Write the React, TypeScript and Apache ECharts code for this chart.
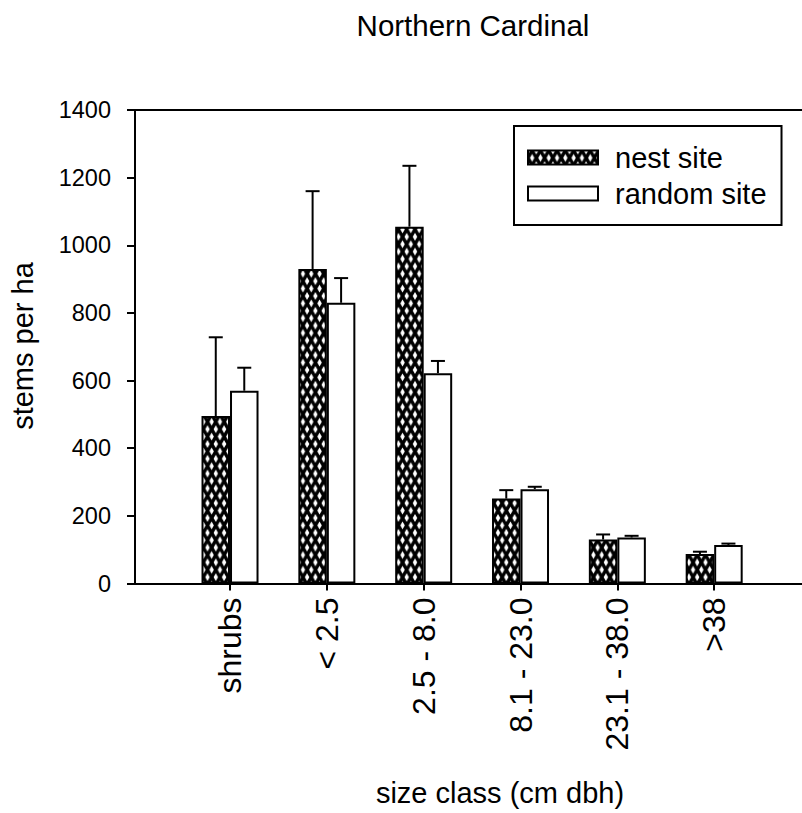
import React, { useEffect, useRef } from 'react';
import * as echarts from 'echarts';

const categories = ['shrubs', '< 2.5', '2.5 - 8.0', '8.1 - 23.0', '23.1 - 38.0', '>38'];
const nestSite = [495, 930, 1055, 251, 130, 87];
const nestSiteUpper = [728, 1160, 1235, 276, 145, 94];
const randomSite = [570, 830, 622, 279, 136, 114];
const randomSiteUpper = [638, 903, 658, 286, 141, 118];
const seriesNames = ['nest site', 'random site'];
const titleText = 'Northern Cardinal';
const xName = 'size class (cm dbh)';
const yName = 'stems per ha';

const FONT = "'Liberation Sans', Arial, Helvetica, sans-serif";
const BAR_W = 28.5;

function hatchPattern() {
  const w = 8.3;
  const h = 14.8;
  const a = 2.2;
  const b = 3.9;
  const centers = [
    [0, 0],
    [w, 0],
    [0, h],
    [w, h],
    [w / 2, h / 2],
  ];
  const polys = centers
    .map(
      ([cx, cy]) =>
        `<polygon points='${cx - a},${cy} ${cx},${cy - b} ${cx + a},${cy} ${cx},${cy + b}' fill='white'/>`
    )
    .join('');
  const svg = `<svg xmlns='http://www.w3.org/2000/svg' width='${w}' height='${h}' viewBox='0 0 ${w} ${h}'><rect width='${w}' height='${h}' fill='black'/>${polys}</svg>`;
  return {
    image: 'data:image/svg+xml;charset=utf-8,' + encodeURIComponent(svg),
    repeat: 'repeat',
    imageWidth: w,
    imageHeight: h,
  } as any;
}

function errorSeries(name: string, values: number[], upper: number[], sign: number) {
  return {
    type: 'custom',
    name: name + ' error',
    xAxisIndex: 0,
    yAxisIndex: 0,
    z: 5,
    silent: true,
    data: values.map((v, i) => [i, v, upper[i]]),
    encode: { x: 0, y: [1, 2] },
    renderItem: (params: any, api: any) => {
      const base = api.coord([api.value(0), api.value(1)]);
      const top = api.coord([api.value(0), api.value(2)]);
      const x = base[0] + (sign * BAR_W) / 2;
      return {
        type: 'group',
        children: [
          {
            type: 'line',
            shape: { x1: x, y1: base[1], x2: x, y2: top[1] },
            style: { stroke: '#000', lineWidth: 2 },
          },
          {
            type: 'line',
            shape: { x1: x - 7, y1: top[1], x2: x + 7, y2: top[1] },
            style: { stroke: '#000', lineWidth: 2 },
          },
        ],
      };
    },
  };
}

export default function App() {
  const ref = useRef<HTMLDivElement>(null);

  useEffect(() => {
    if (!ref.current) return;
    const chart = echarts.init(ref.current, null, { renderer: 'svg' });
    const axisLineStyle = { color: '#000', width: 2 };
    const frameAxis = (position: string) => ({
      type: 'value',
      gridIndex: 1,
      min: 0,
      max: 1,
      position,
      axisLine: { show: true, onZero: false, lineStyle: axisLineStyle },
      axisTick: { show: false },
      axisLabel: { show: false },
      splitLine: { show: false },
    });

    chart.setOption({
      animation: false,
      backgroundColor: '#fff',
      textStyle: { fontFamily: FONT, color: '#000' },
      grid: [
        { left: 181.6, right: 39.4, top: 110, bottom: 229.5 },
        { left: 135, right: 0, top: 110, bottom: 229.5 },
      ],
      legend: {
        data: seriesNames,
        orient: 'vertical',
        left: 514,
        top: 126,
        padding: [17, 15, 17, 13],
        itemWidth: 70,
        itemHeight: 14,
        itemGap: 7,
        icon: 'rect',
        borderColor: '#000',
        borderWidth: 2,
        selectedMode: false,
        itemStyle: { borderColor: '#000', borderWidth: 2 },
        textStyle: {
          fontFamily: FONT,
          fontSize: 29,
          lineHeight: 29,
          color: '#000',
          padding: [0, 0, 0, 12],
        },
      },
      xAxis: [
        {
          type: 'category',
          gridIndex: 0,
          data: categories,
          axisLine: { show: false },
          axisTick: {
            show: true,
            alignWithLabel: true,
            length: 7,
            lineStyle: axisLineStyle,
          },
          axisLabel: {
            rotate: 90,
            fontSize: 32,
            margin: 14,
            color: '#000',
            fontFamily: FONT,
          },
          splitLine: { show: false },
        },
        frameAxis('bottom'),
        frameAxis('top'),
      ],
      yAxis: [
        {
          type: 'value',
          gridIndex: 0,
          min: 0,
          max: 1400,
          interval: 200,
          offset: 46.6,
          axisLine: { show: true, lineStyle: axisLineStyle },
          axisTick: { show: true, length: 8, lineStyle: axisLineStyle },
          axisLabel: {
            fontSize: 23.5,
            margin: 24,
            color: '#000',
            fontFamily: FONT,
            formatter: (v: number) => String(v),
          },
          splitLine: { show: false },
        },
        { type: 'value', gridIndex: 1, min: 0, max: 1, show: false },
      ],
      graphic: [
        {
          type: 'text',
          x: 473,
          y: 25,
          style: {
            text: titleText,
            fontFamily: FONT,
            fontSize: 29.5,
            fill: '#000',
            align: 'center',
            verticalAlign: 'middle',
            textAlign: 'center',
            textVerticalAlign: 'middle',
          },
        },
        {
          type: 'text',
          x: 500,
          y: 793,
          style: {
            text: xName,
            fontFamily: FONT,
            fontSize: 29,
            fill: '#000',
            align: 'center',
            verticalAlign: 'middle',
            textAlign: 'center',
            textVerticalAlign: 'middle',
          },
        },
        {
          type: 'text',
          x: 23,
          y: 346,
          rotation: Math.PI / 2,
          style: {
            text: yName,
            fontFamily: FONT,
            fontSize: 29,
            fill: '#000',
            align: 'center',
            verticalAlign: 'middle',
            textAlign: 'center',
            textVerticalAlign: 'middle',
          },
        },
      ],
      series: [
        {
          type: 'bar',
          name: seriesNames[0],
          xAxisIndex: 0,
          yAxisIndex: 0,
          data: nestSite,
          barWidth: BAR_W,
          barGap: '0%',
          itemStyle: { color: hatchPattern(), borderColor: '#000', borderWidth: 2 },
        },
        {
          type: 'bar',
          name: seriesNames[1],
          xAxisIndex: 0,
          yAxisIndex: 0,
          data: randomSite,
          barWidth: BAR_W,
          barGap: '0%',
          itemStyle: { color: '#fff', borderColor: '#000', borderWidth: 2 },
        },
        errorSeries(seriesNames[0], nestSite, nestSiteUpper, -1),
        errorSeries(seriesNames[1], randomSite, randomSiteUpper, 1),
      ],
    });

    return () => {
      chart.dispose();
    };
  }, []);

  return (
    <div
      ref={ref}
      style={{ position: 'fixed', left: 0, top: 0, width: 802, height: 813, background: '#fff' }}
    />
  );
}
